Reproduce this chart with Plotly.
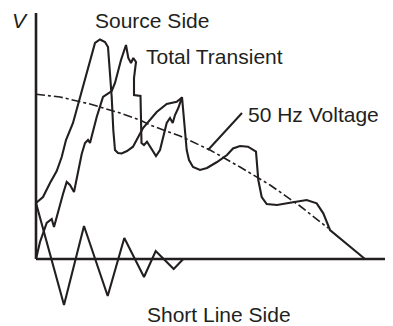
import plotly.graph_objects as go

# ---- data (time units t, voltage units v; origin at axes corner) ----
source_t = [0, 7, 14, 20.7, 25.7, 30, 37, 47, 55.7, 59, 64, 69, 72, 74, 75.7, 77.3, 79,
            82, 85.7, 91, 97, 107, 114, 120.7, 130.7, 140.7, 146]
source_v = [56, 62, 76, 88, 102, 119, 136, 172, 206, 216, 219.5, 217, 212, 186, 162, 129, 109,
            106, 105.5, 108, 112.3, 131, 139, 147, 155, 157.3, 161.5]

total_t = [0, 4, 10.7, 15.7, 18, 22, 27, 30.7, 34, 38, 42.3, 45.7, 49, 52, 54, 60.7, 67, 72,
           75.7, 79, 85, 90, 92.3, 95, 97.3, 100, 98, 98, 104.5, 105.5, 108, 111, 116, 120,
           124, 127.3, 130.7, 134, 136.7, 139, 142.3, 146, 147.3, 150.7, 153, 157, 164, 171,
           181, 191, 197, 204, 212, 220, 222.3, 225.7, 230.7, 241, 254, 270.7, 280.7, 287.3,
           294, 329]
total_v = [0, 17, 36, 40, 32, 48, 65, 77, 74, 67, 87, 105, 116, 119, 116, 142, 162, 166,
           168, 176, 199, 214, 201, 196, 201, 197, 181, 164, 163, 116, 114, 117.3, 109, 103,
           109, 122, 136, 141, 136, 144, 151, 162, 146, 109, 99, 92, 89, 91,
           97, 104, 110.5, 113, 112.3, 107.3, 79, 62, 55, 54, 56.3, 59, 55.7, 45.7,
           29, 0]

short_t = [0, 28, 48, 71.7, 88.3, 108, 119.7, 137.7, 147.3]
short_v = [56, -46, 33, -37, 21, -18, 8, -10, 0]

hz50_t = [0, 24, 54, 84, 104, 114, 144, 174, 204, 234, 264, 292]
hz50_v = [164.7, 162, 155, 146, 139, 134, 123, 109, 92, 74, 53, 31]

leader_t = [172, 206]
leader_v = [109, 146]

labels = ["V", "Source Side", "Total Transient", "50 Hz Voltage", "Short Line Side"]
label_t = [-25, 58, 109, 211.3, 109.7]
label_v = [239, 238.5, 203, 144.5, -55.5]

INK = "#231f20"

fig = go.Figure()
fig.add_trace(go.Scatter(x=hz50_t, y=hz50_v, mode="lines",
                         line=dict(color=INK, width=1.6, dash="9px,3px,3px,3px")))
fig.add_trace(go.Scatter(x=source_t, y=source_v, mode="lines",
                         line=dict(color=INK, width=2.1)))
fig.add_trace(go.Scatter(x=total_t, y=total_v, mode="lines",
                         line=dict(color=INK, width=2.1)))
fig.add_trace(go.Scatter(x=short_t, y=short_v, mode="lines",
                         line=dict(color=INK, width=2.1)))
fig.add_trace(go.Scatter(x=leader_t, y=leader_v, mode="lines",
                         line=dict(color=INK, width=2)))

# axes
fig.add_shape(type="line", x0=0, x1=0, y0=0, y1=246, line=dict(color=INK, width=2.6))
fig.add_shape(type="line", x0=0, x1=357, y0=0, y1=0, line=dict(color=INK, width=2.6))

for i, (txt, tx, vy) in enumerate(zip(labels, label_t, label_v)):
    fig.add_annotation(x=tx, y=vy, text=("<i>%s</i>" % txt) if i == 0 else txt,
                       showarrow=False, xanchor="left", yanchor="middle", borderpad=0,
                       font=dict(family="Liberation Sans, Arial", size=21, color=INK))

# page body has an 8px margin: the figure covers page pixels 8..393 x 8..326
fig.update_layout(
    width=385, height=318,
    margin=dict(l=0, r=0, t=0, b=0),
    paper_bgcolor="white", plot_bgcolor="white",
    showlegend=False,
    xaxis=dict(range=[-28, 357], visible=False),
    yaxis=dict(range=[-67, 251], visible=False),
)
fig.write_html("out.html")
